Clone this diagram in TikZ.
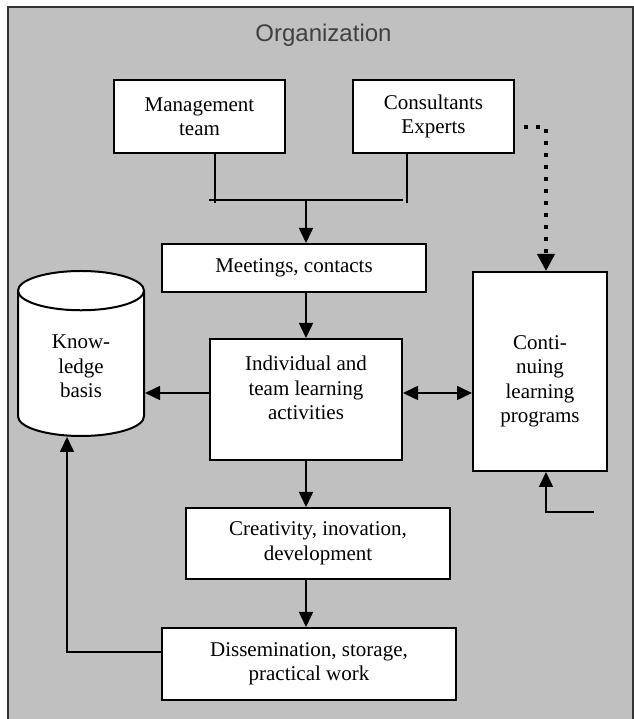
\documentclass[tikz,border=0pt]{standalone}
\usepackage{fontspec}
\setmainfont{Liberation Serif}
\newfontfamily\orgfont{Liberation Sans}
\usetikzlibrary{arrows.meta,shapes.geometric}

\definecolor{orggray}{HTML}{C0C0C0}
\definecolor{orgtext}{HTML}{404040}

\begin{document}
\begin{tikzpicture}[box/.style={draw, fill=white, line width=2bp, align=center,
						inner sep=2bp, font=\fontsize{21bp}{24.5bp}\selectfont},
						link/.style={line width=1.6bp},
						arr/.style={link, -{Triangle[length=15bp,width=14bp]}},
						twoway/.style={link, {Triangle[length=15bp,width=14bp]}-{Triangle[length=15bp,width=14bp]}},
						dotline/.style={line width=4bp, dash pattern=on 4bp off 8bp,
						-{Triangle[length=17bp,width=17bp]}}]

		\useasboundingbox (0bp,0bp) rectangle (634bp,719bp);
		\draw[fill=orggray, draw=black!80, line width=1.2bp] (8bp,-5bp) rectangle (633bp,712bp);

		\node[text=orgtext, font=\orgfont\fontsize{24bp}{28bp}\selectfont] (org) at (323.5bp,684.0bp) {Organization};

		\node[box, minimum width=171bp, minimum height=73bp] (mgmt) at (199.5bp,602.5bp) {Management\\team};
		\node[box, minimum width=161bp, minimum height=73bp] (cons) at (433.5bp,602.5bp) {Consultants\\Experts};
		\node[box, minimum width=264bp, minimum height=48bp] (meet) at (294.0bp,451.0bp) {Meetings, contacts};
		\node[box, cylinder, shape border rotate=90, aspect=0.63, anchor=south,
				minimum width=126bp, minimum height=165bp] (know) at (81.0bp,282.0bp) {Know-\\ledge\\basis};
		\node[box, minimum width=192bp, minimum height=121bp,
				label={[align=center, yshift=11.5bp, font=\fontsize{21bp}{24.5bp}\selectfont]center:Individual and\\team learning\\activities}] (indiv) at (306.0bp,319.5bp) {};
		\node[box, minimum width=134bp, minimum height=199bp,
				label={[align=center, yshift=-10bp, font=\fontsize{21bp}{24.5bp}\selectfont]center:Conti-\\nuing\\learning\\programs}] (cont) at (540.0bp,347.5bp) {};
		\node[box, minimum width=264bp, minimum height=71bp] (crea) at (318.0bp,175.5bp) {Creativity, inovation,\\development};
		\node[box, minimum width=294bp, minimum height=72bp] (diss) at (309.0bp,55.0bp) {Dissemination, storage,\\practical work};

		\coordinate (bus) at (306.0bp,519.0bp);
		\coordinate (feed) at (594.0bp,207.0bp);

		\draw[link] ([xshift=15.5bp]mgmt.south) -- ++(0,-49bp);
		\draw[link] ([xshift=-26.5bp]cons.south) -- ++(0,-49bp);
		\draw[link] ([xshift=-97bp]bus) -- ([xshift=97bp]bus);
		\draw[arr] (bus) -- (bus |- meet.north);
		\draw[arr] (indiv |- meet.south) -- (indiv.north);
		\draw[arr] ([yshift=6.5bp]indiv.west) -- ([yshift=6.5bp]indiv.west -| know.east);
		\draw[twoway] ([yshift=6.5bp]indiv.east) -- ([yshift=6.5bp]indiv.east -| cont.west);
		\draw[arr] (indiv.south) -- (indiv |- crea.north);
		\draw[arr] (indiv |- crea.south) -- (indiv |- diss.north);
		\draw[arr] ([yshift=12bp]diss.west) -| ([xshift=-14bp]know.south);
		\draw[dotline] ([xshift=9bp,yshift=-10.5bp]cons.east) -| ([xshift=6bp]cont.north);
		\draw[arr] (feed) -| ([xshift=6bp]cont.south);

	\end{tikzpicture}
\end{document}
